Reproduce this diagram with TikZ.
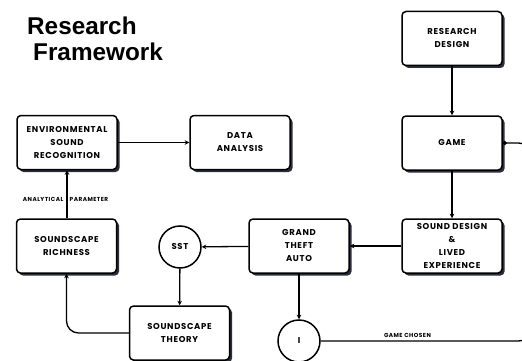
\documentclass[tikz,border=0pt]{standalone}
\usepackage{fontspec}
\setmainfont{Poppins}
\newfontfamily\boxfont[LetterSpace=8]{Poppins}
\newfontfamily\titlefont{Liberation Sans}
\usetikzlibrary{shadows,arrows.meta}
\definecolor{shadowc}{HTML}{2B2D3C}
\tikzset{
  box/.style={draw=black, line width=1.5pt, rounded corners=4pt, fill=white,
    minimum width=100pt, minimum height=54pt, inner sep=0pt, align=center,
    font=\boxfont\fontsize{8.5}{13}\selectfont\bfseries,
    drop shadow={shadow xshift=2.5pt, shadow yshift=-2.5pt, opacity=1, fill=shadowc}},
  circ/.style={draw=black, line width=1.5pt, circle, fill=white, minimum size=42pt,
    inner sep=0pt, font=\boxfont\fontsize{8.5}{13}\selectfont\bfseries},
  conn/.style={line width=1.3pt, -{Stealth[length=4.5pt,width=4.5pt]}},
  plain/.style={line width=1.3pt},
  tiny/.style={font=\boxfont\fontsize{5.8}{7}\selectfont\bfseries, inner sep=0pt},
  ttl/.style={font=\titlefont\fontsize{24.3}{26}\selectfont\bfseries, inner sep=0pt}
}
\begin{document}
\begin{tikzpicture}[x=1pt,y=-1pt]
\clip (0,0) rectangle (522,361);
\fill[white] (0,0) rectangle (522,361);
\node[ttl, anchor=base west] (t1) at (27,35) {Research};
\node[ttl, anchor=base west] (t2) at (33,60) {Framework};

\node[box] (rd) at (452,38.5) {RESEARCH\\DESIGN};
\node[box] (game) at (452,143) {GAME};
\node[box] (sd) at (452,246) {SOUND DESIGN\\\&\\LIVED\\EXPERIENCE};
\node[box] (gta) at (299,246) {GRAND\\THEFT\\AUTO};
\node[box] (esr) at (67,142.5) {ENVIRONMENTAL\\SOUND\\RECOGNITION};
\node[box] (da) at (240,142.5) {DATA\\ANALYSIS};
\node[box] (rich) at (66.5,246) {SOUNDSCAPE\\RICHNESS};
\node[box] (theory) at (179.5,333) {SOUNDSCAPE\\THEORY};
\node[circ] (sst) at (180,247) {SST};
\node[circ] (one) at (299,341) {I};

\coordinate (r1) at (532,143);
\coordinate (r2) at (532,341);

\draw[conn] (rd) -- (game);
\draw[conn] (game) -- (sd);
\draw[conn] (sd) -- (gta);
\draw[conn] (gta) -- (sst);
\draw[conn] (sst) -- (theory);
\draw[conn, rounded corners=12pt] (theory.west) -| (rich.south);
\draw[conn] (rich.north -| esr.south) -- (esr.south);
\draw[conn] (esr) -- (da);
\draw[conn] (gta) -- (one);
\draw[plain, {Circle[open,length=4pt,width=4pt]}-, rounded corners=14pt] (game.east) -- (r1) -- (r2) -- (one.east);

\node[tiny, anchor=east] (ap1) at (63.5,199) {ANALYTICAL};
\node[tiny, anchor=west] (ap2) at (69.5,199) {PARAMETER};
\node[tiny] (gc) at (407.5,335) {GAME CHOSEN};
\end{tikzpicture}
\end{document}
